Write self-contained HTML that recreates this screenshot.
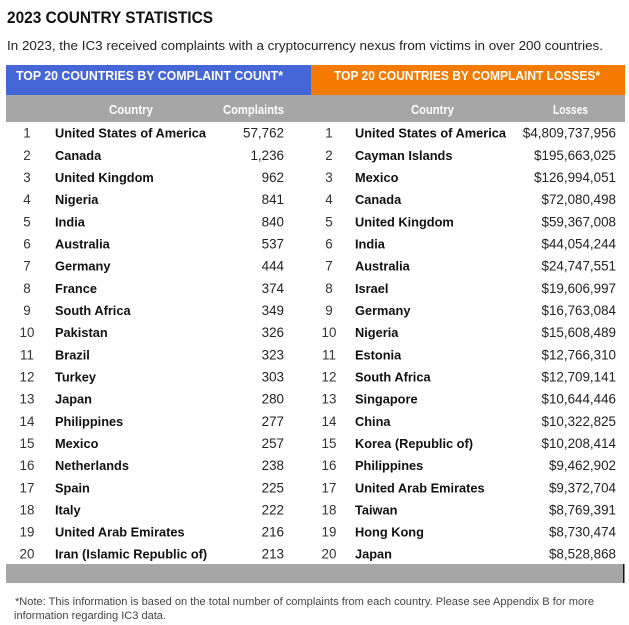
<!DOCTYPE html>
<html><head><meta charset="utf-8"><style>
html,body{margin:0;padding:0;background:#fff;}
svg{display:block;}
text{font-family:"Liberation Sans",Arial,sans-serif;}
.c{font-weight:bold;font-size:12.8px;fill:#111;}
.n{font-size:13.4px;fill:#222;}
.r{font-size:13.4px;fill:#333;text-anchor:middle;}
.e{text-anchor:end;}
.h{font-weight:bold;fill:#fff;}
</style></head><body>
<svg width="629" height="625" viewBox="0 0 629 625" xmlns="http://www.w3.org/2000/svg">
<rect width="629" height="625" fill="#fff"/>
<text x="7" y="23" font-size="17" font-weight="bold" fill="#111" textLength="206" lengthAdjust="spacingAndGlyphs">2023 COUNTRY STATISTICS</text>
<text x="7" y="50" font-size="12.6" fill="#222" textLength="596" lengthAdjust="spacingAndGlyphs">In 2023, the IC3 received complaints with a cryptocurrency nexus from victims in over 200 countries.</text>
<rect x="6" y="65" width="305" height="30" fill="#4566d6"/>
<rect x="311" y="65" width="314" height="30" fill="#f47a00"/>
<text class="h" x="16" y="80" font-size="13" textLength="267" lengthAdjust="spacingAndGlyphs">TOP 20 COUNTRIES BY COMPLAINT COUNT*</text>
<text class="h" x="334" y="80" font-size="13" textLength="266" lengthAdjust="spacingAndGlyphs">TOP 20 COUNTRIES BY COMPLAINT LOSSES*</text>
<rect x="6" y="95" width="619" height="27" fill="#a6a6a6"/>
<text class="h" x="109" y="114" font-size="12.5" textLength="44" lengthAdjust="spacingAndGlyphs">Country</text>
<text class="h" x="223" y="114" font-size="12.5" textLength="61" lengthAdjust="spacingAndGlyphs">Complaints</text>
<text class="h" x="411" y="114" font-size="12.5" textLength="43" lengthAdjust="spacingAndGlyphs">Country</text>
<text class="h" x="553" y="114" font-size="12.5" textLength="35" lengthAdjust="spacingAndGlyphs">Losses</text>

<g id="rows">
<text class="r" x="27" y="137.7">1</text><text class="c" x="55" y="137.7">United States of America</text><text class="n e" x="284" y="137.7">57,762</text>
<text class="r" x="329" y="137.7">1</text><text class="c" x="355" y="137.7">United States of America</text><text class="n e" x="616" y="137.7">$4,809,737,956</text>

<text class="r" x="27" y="159.9">2</text><text class="c" x="55" y="159.9">Canada</text><text class="n e" x="284" y="159.9">1,236</text>
<text class="r" x="329" y="159.9">2</text><text class="c" x="355" y="159.9">Cayman Islands</text><text class="n e" x="616" y="159.9">$195,663,025</text>

<text class="r" x="27" y="182.0">3</text><text class="c" x="55" y="182.0">United Kingdom</text><text class="n e" x="284" y="182.0">962</text>
<text class="r" x="329" y="182.0">3</text><text class="c" x="355" y="182.0">Mexico</text><text class="n e" x="616" y="182.0">$126,994,051</text>

<text class="r" x="27" y="204.2">4</text><text class="c" x="55" y="204.2">Nigeria</text><text class="n e" x="284" y="204.2">841</text>
<text class="r" x="329" y="204.2">4</text><text class="c" x="355" y="204.2">Canada</text><text class="n e" x="616" y="204.2">$72,080,498</text>

<text class="r" x="27" y="226.3">5</text><text class="c" x="55" y="226.3">India</text><text class="n e" x="284" y="226.3">840</text>
<text class="r" x="329" y="226.3">5</text><text class="c" x="355" y="226.3">United Kingdom</text><text class="n e" x="616" y="226.3">$59,367,008</text>

<text class="r" x="27" y="248.5">6</text><text class="c" x="55" y="248.5">Australia</text><text class="n e" x="284" y="248.5">537</text>
<text class="r" x="329" y="248.5">6</text><text class="c" x="355" y="248.5">India</text><text class="n e" x="616" y="248.5">$44,054,244</text>

<text class="r" x="27" y="270.7">7</text><text class="c" x="55" y="270.7">Germany</text><text class="n e" x="284" y="270.7">444</text>
<text class="r" x="329" y="270.7">7</text><text class="c" x="355" y="270.7">Australia</text><text class="n e" x="616" y="270.7">$24,747,551</text>

<text class="r" x="27" y="292.8">8</text><text class="c" x="55" y="292.8">France</text><text class="n e" x="284" y="292.8">374</text>
<text class="r" x="329" y="292.8">8</text><text class="c" x="355" y="292.8">Israel</text><text class="n e" x="616" y="292.8">$19,606,997</text>

<text class="r" x="27" y="315.0">9</text><text class="c" x="55" y="315.0">South Africa</text><text class="n e" x="284" y="315.0">349</text>
<text class="r" x="329" y="315.0">9</text><text class="c" x="355" y="315.0">Germany</text><text class="n e" x="616" y="315.0">$16,763,084</text>

<text class="r" x="27" y="337.1">10</text><text class="c" x="55" y="337.1">Pakistan</text><text class="n e" x="284" y="337.1">326</text>
<text class="r" x="329" y="337.1">10</text><text class="c" x="355" y="337.1">Nigeria</text><text class="n e" x="616" y="337.1">$15,608,489</text>

<text class="r" x="27" y="359.3">11</text><text class="c" x="55" y="359.3">Brazil</text><text class="n e" x="284" y="359.3">323</text>
<text class="r" x="329" y="359.3">11</text><text class="c" x="355" y="359.3">Estonia</text><text class="n e" x="616" y="359.3">$12,766,310</text>

<text class="r" x="27" y="381.5">12</text><text class="c" x="55" y="381.5">Turkey</text><text class="n e" x="284" y="381.5">303</text>
<text class="r" x="329" y="381.5">12</text><text class="c" x="355" y="381.5">South Africa</text><text class="n e" x="616" y="381.5">$12,709,141</text>

<text class="r" x="27" y="403.6">13</text><text class="c" x="55" y="403.6">Japan</text><text class="n e" x="284" y="403.6">280</text>
<text class="r" x="329" y="403.6">13</text><text class="c" x="355" y="403.6">Singapore</text><text class="n e" x="616" y="403.6">$10,644,446</text>

<text class="r" x="27" y="425.8">14</text><text class="c" x="55" y="425.8">Philippines</text><text class="n e" x="284" y="425.8">277</text>
<text class="r" x="329" y="425.8">14</text><text class="c" x="355" y="425.8">China</text><text class="n e" x="616" y="425.8">$10,322,825</text>

<text class="r" x="27" y="447.9">15</text><text class="c" x="55" y="447.9">Mexico</text><text class="n e" x="284" y="447.9">257</text>
<text class="r" x="329" y="447.9">15</text><text class="c" x="355" y="447.9">Korea (Republic of)</text><text class="n e" x="616" y="447.9">$10,208,414</text>

<text class="r" x="27" y="470.1">16</text><text class="c" x="55" y="470.1">Netherlands</text><text class="n e" x="284" y="470.1">238</text>
<text class="r" x="329" y="470.1">16</text><text class="c" x="355" y="470.1">Philippines</text><text class="n e" x="616" y="470.1">$9,462,902</text>

<text class="r" x="27" y="492.3">17</text><text class="c" x="55" y="492.3">Spain</text><text class="n e" x="284" y="492.3">225</text>
<text class="r" x="329" y="492.3">17</text><text class="c" x="355" y="492.3">United Arab Emirates</text><text class="n e" x="616" y="492.3">$9,372,704</text>

<text class="r" x="27" y="514.4">18</text><text class="c" x="55" y="514.4">Italy</text><text class="n e" x="284" y="514.4">222</text>
<text class="r" x="329" y="514.4">18</text><text class="c" x="355" y="514.4">Taiwan</text><text class="n e" x="616" y="514.4">$8,769,391</text>

<text class="r" x="27" y="536.6">19</text><text class="c" x="55" y="536.6">United Arab Emirates</text><text class="n e" x="284" y="536.6">216</text>
<text class="r" x="329" y="536.6">19</text><text class="c" x="355" y="536.6">Hong Kong</text><text class="n e" x="616" y="536.6">$8,730,474</text>

<text class="r" x="27" y="558.7">20</text><text class="c" x="55" y="558.7">Iran (Islamic Republic of)</text><text class="n e" x="284" y="558.7">213</text>
<text class="r" x="329" y="558.7">20</text><text class="c" x="355" y="558.7">Japan</text><text class="n e" x="616" y="558.7">$8,528,868</text>
</g>

<rect x="6" y="564" width="618" height="19" fill="#a6a6a6"/>
<rect x="623" y="564" width="1.5" height="19" fill="#111"/>

<text x="15" y="605" font-size="11" fill="#444" textLength="579" lengthAdjust="spacingAndGlyphs">*Note: This information is based on the total number of complaints from each country. Please see Appendix B for more</text>
<text x="14" y="619" font-size="11" fill="#444" textLength="152" lengthAdjust="spacingAndGlyphs">information regarding IC3 data.</text>
</svg>
</body></html>
